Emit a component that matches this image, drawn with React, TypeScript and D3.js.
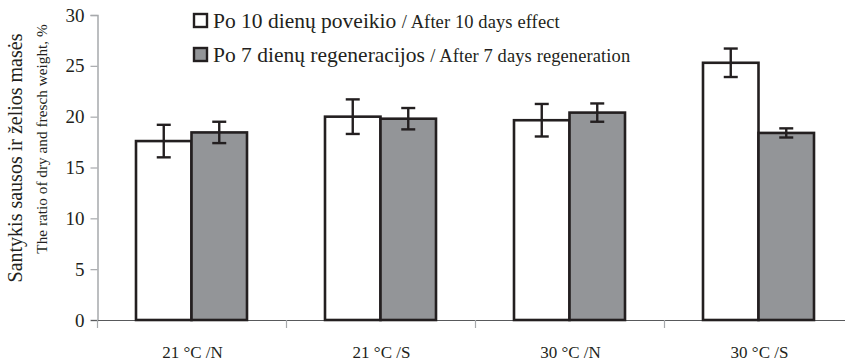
import { useEffect, useRef } from "react";
import * as d3 from "d3";

// data
const categories = ["21 °C /N", "21 °C /S", "30 °C /N", "30 °C /S"];
const seriesNames = ["after10", "regen7"];
const after10 = [17.6, 20.0, 19.65, 25.3];
const after10Err = [1.6, 1.7, 1.6, 1.4];
const regen7 = [18.45, 19.8, 20.4, 18.4];
const regen7Err = [1.05, 1.05, 0.9, 0.45];
const yTicks = [0, 5, 10, 15, 20, 25, 30];
const legendLt = ["Po 10 dienų poveikio", "Po 7 dienų regeneracijos"];
const legendEn = ["/ After 10 days effect", "/ After 7 days regeneration"];

const W = 845;
const H = 363;
const font = "'Liberation Serif', 'Times New Roman', serif";
const ink = "#231f20";
const fills = ["#ffffff", "#939598"];

export default function App() {
  const ref = useRef<SVGSVGElement>(null);

  useEffect(() => {
    const svg = d3.select(ref.current);
    svg.selectAll("*").remove();

    const x0 = d3.scaleBand().domain(categories).range([97, 97 + 189 * 4]).padding(0);
    const groupW = 111;
    const x1 = d3.scaleBand().domain(seriesNames).range([0, groupW]).padding(0);
    const y = d3.scaleLinear().domain([0, 30]).range([320, 15]);

    // y axis
    const yAxis = svg.append("g").attr("transform", "translate(97.5,0)")
      .call(d3.axisLeft(y).tickValues(yTicks).tickSize(7).tickPadding(6));
    yAxis.select(".domain").attr("stroke", "#a7a9ac").attr("stroke-width", 1.5);
    yAxis.selectAll(".tick line").attr("stroke", "#a7a9ac").attr("stroke-width", 1.2);
    yAxis.selectAll(".tick text")
      .attr("font-family", font).attr("font-size", 19).attr("fill", ink);

    // x axis line and category ticks
    svg.append("line").attr("x1", 91).attr("x2", W).attr("y1", 320.5).attr("y2", 320.5)
      .attr("stroke", "#58595b").attr("stroke-width", 1);
    svg.append("g").selectAll("line")
      .data(categories.slice(1))
      .join("line")
      .attr("x1", (d) => x0(d)! + 0.5).attr("x2", (d) => x0(d)! + 0.5)
      .attr("y1", 320).attr("y2", 328)
      .attr("stroke", "#a7a9ac").attr("stroke-width", 1.2);
    svg.append("line").attr("x1", 97.5).attr("x2", 97.5).attr("y1", 320).attr("y2", 328)
      .attr("stroke", "#a7a9ac").attr("stroke-width", 1.2);

    svg.append("g").selectAll("text")
      .data(categories)
      .join("text")
      .attr("x", (d) => x0(d)! + x0.bandwidth() / 2 + 1)
      .attr("y", 358)
      .attr("text-anchor", "middle")
      .attr("font-family", font).attr("font-size", 17).attr("fill", ink)
      .text((d) => d);

    const values = [after10, regen7];
    const errs = [after10Err, regen7Err];

    seriesNames.forEach((s, si) => {
      const g = svg.append("g");
      const rows = categories.map((c, i) => ({ c, v: values[si][i], e: errs[si][i] }));
      const left = (c: string) => x0(c)! + x0.bandwidth() / 2 - groupW / 2 + x1(s)!;
      g.selectAll("rect")
        .data(rows)
        .join("rect")
        .attr("x", (d) => left(d.c))
        .attr("y", (d) => y(d.v))
        .attr("width", x1.bandwidth())
        .attr("height", (d) => y(0) - y(d.v))
        .attr("fill", fills[si])
        .attr("stroke", ink)
        .attr("stroke-width", 2.6);
      // error bars
      const eb = g.selectAll("g.err").data(rows).join("g").attr("class", "err");
      const cx = (d: { c: string }) => left(d.c) + x1.bandwidth() / 2;
      eb.append("line")
        .attr("x1", cx).attr("x2", cx)
        .attr("y1", (d) => y(d.v + d.e)).attr("y2", (d) => y(d.v - d.e));
      eb.append("line")
        .attr("x1", (d) => cx(d) - 7).attr("x2", (d) => cx(d) + 7)
        .attr("y1", (d) => y(d.v + d.e)).attr("y2", (d) => y(d.v + d.e));
      eb.append("line")
        .attr("x1", (d) => cx(d) - 7).attr("x2", (d) => cx(d) + 7)
        .attr("y1", (d) => y(d.v - d.e)).attr("y2", (d) => y(d.v - d.e));
      eb.selectAll("line").attr("stroke", ink).attr("stroke-width", 2.4);
    });

    // legend
    const lg = svg.append("g");
    legendLt.forEach((t, i) => {
      const base = 28 + i * 34;
      lg.append("rect").attr("x", 194).attr("y", base - 14).attr("width", 13).attr("height", 13)
        .attr("fill", fills[i]).attr("stroke", ink).attr("stroke-width", 2.4);
      const tx = lg.append("text").attr("x", 213).attr("y", base)
        .attr("font-family", font).attr("fill", ink);
      tx.append("tspan").attr("font-size", 21.5).text(t + " ");
      tx.append("tspan").attr("font-size", 18.5).attr("letter-spacing", 0.1).text(legendEn[i]);
    });

    // y axis title, two lines
    svg.append("text")
      .attr("transform", "translate(22,158) rotate(-90)")
      .attr("text-anchor", "middle")
      .attr("font-family", font).attr("font-size", 20).attr("fill", ink)
      .text("Santykis sausos ir želios masės");
    svg.append("text")
      .attr("transform", "translate(47,139) rotate(-90)")
      .attr("text-anchor", "middle")
      .attr("font-family", font).attr("font-size", 15.3).attr("fill", ink)
      .text("The ratio of dry and fresch weight, %");
  }, []);

  return (
    <svg
      ref={ref}
      width={W}
      height={H}
      style={{ position: "absolute", left: 0, top: 0, background: "#fff" }}
    />
  );
}
